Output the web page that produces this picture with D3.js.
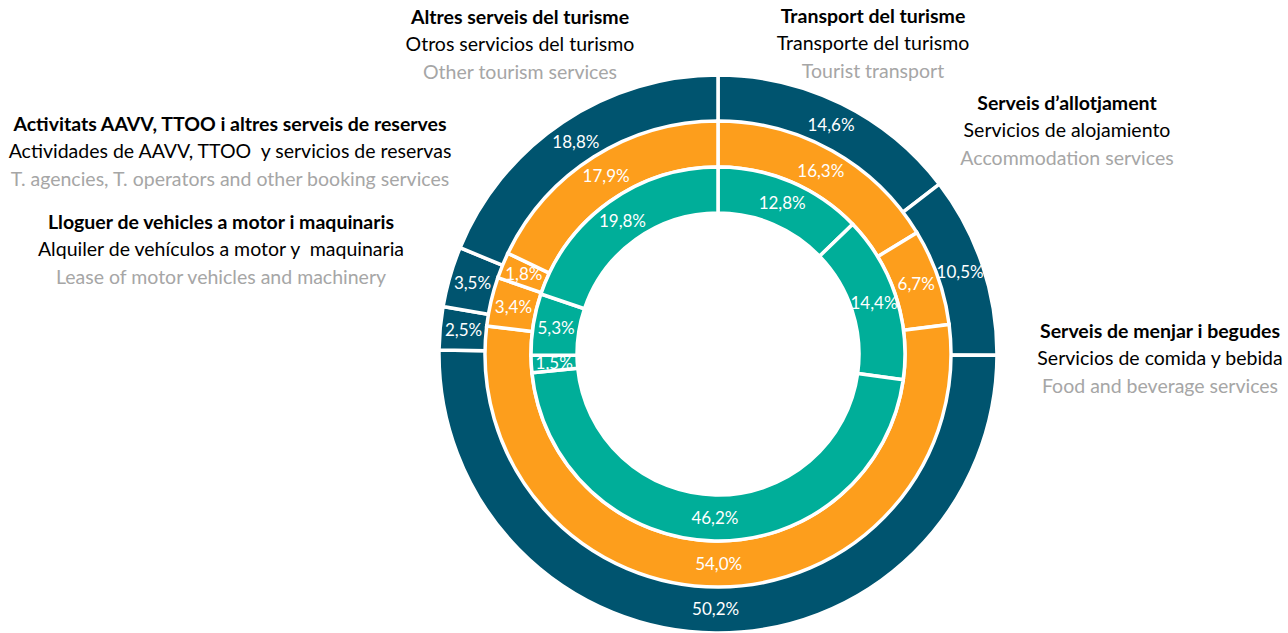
<!DOCTYPE html>
<html>
<head>
<meta charset="utf-8">
<script src="https://cdn.jsdelivr.net/npm/d3@7"></script>
<style>
  body { margin: 0; background: #fff; }
  svg { display: block; font-family: Lato, "Open Sans", sans-serif; }
</style>
</head>
<body>
<svg id="chart"></svg>
<script>
// categories, clockwise from 12 o'clock
const categories = ["Transport", "Accommodation", "Food", "Lease", "Agencies", "Other"];

// series values (%), one ring each, outer to inner
const outerValues = [14.6, 10.5, 50.2, 2.5, 3.5, 18.8];
const middleValues = [16.3, 6.7, 54.0, 3.4, 1.8, 17.9];
const innerValues = [12.8, 14.4, 46.2, 1.5, 5.3, 19.8];

// label texts: catalan (bold), spanish, english
const labelCa = ["Transport del turisme", "Serveis d\u2019allotjament", "Serveis de menjar i begudes",
  "Lloguer de vehicles a motor i maquinaris", "Activitats AAVV, TTOO i altres serveis de reserves",
  "Altres serveis del turisme"];
const labelEs = ["Transporte del turismo", "Servicios de alojamiento", "Servicios de comida y bebida",
  "Alquiler de veh\u00edculos a motor y\u00a0 maquinaria", "Actividades de AAVV, TTOO\u00a0 y servicios de reservas",
  "Otros servicios del turismo"];
const labelEn = ["Tourist transport", "Accommodation services", "Food and beverage services",
  "Lease of motor vehicles and machinery", "T. agencies, T. operators and other booking services",
  "Other tourism services"];

const width = 1288, height = 633;
const cx = 718, cy = 354;

const svg = d3.select("#chart").attr("width", width).attr("height", height);
const g = svg.append("g").attr("transform", `translate(${cx},${cy})`);

const rings = [
  { values: outerValues, inner: 232, outer: 279, color: "#00546f" },
  { values: middleValues, inner: 187, outer: 233, color: "#fd9e1c" },
  { values: innerValues, inner: 141, outer: 187, color: "#00ae99" }
];

const pie = d3.pie().sort(null).value(d => d);
const fmt = v => d3.format(".1f")(v).replace(".", ",") + "%";

rings.forEach(ring => {
  const arc = d3.arc().innerRadius(ring.inner).outerRadius(ring.outer);
  const arcs = pie(ring.values);

  g.append("g").selectAll("path")
    .data(arcs)
    .enter().append("path")
    .attr("d", arc)
    .attr("fill", ring.color)
    .attr("stroke", "#fff")
    .attr("stroke-width", 3.5);

  g.append("g").selectAll("text")
    .data(arcs)
    .enter().append("text")
    .attr("transform", d => `translate(${arc.centroid(d)})`)
    .attr("text-anchor", "middle")
    .attr("dy", "0.35em")
    .attr("fill", "#fff")
    .attr("font-size", 17)
    .text(d => fmt(d.data));
});

// category label blocks (centre x, first line y)
const labelPos = [[873, 16], [1067, 103], [1160, 331], [221, 222], [230, 124], [520, 17]];

categories.forEach((c, i) => {
  const t = svg.append("text")
    .attr("x", labelPos[i][0])
    .attr("y", labelPos[i][1])
    .attr("text-anchor", "middle")
    .attr("font-size", 19.5);
  t.append("tspan").attr("x", labelPos[i][0]).attr("dy", "0.35em")
    .attr("font-weight", "bold").attr("fill", "#000").text(labelCa[i]);
  t.append("tspan").attr("x", labelPos[i][0]).attr("dy", 27.5)
    .attr("fill", "#000").text(labelEs[i]);
  t.append("tspan").attr("x", labelPos[i][0]).attr("dy", 27.5)
    .attr("fill", "#a6a6a6").text(labelEn[i]);
});
</script>
</body>
</html>
